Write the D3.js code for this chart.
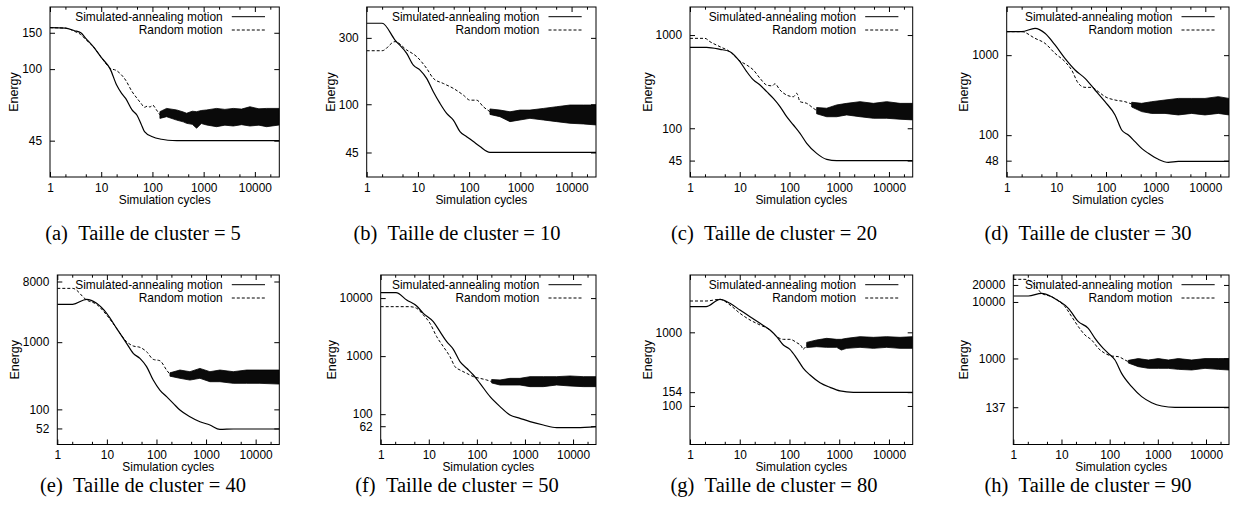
<!DOCTYPE html>
<html><head><meta charset="utf-8">
<script src="https://cdn.jsdelivr.net/npm/d3@7"></script>
<style>body{margin:0;background:#fff} svg{display:block}</style>
</head><body>
<svg id="c" width="1235" height="515"></svg>
<script>
// ---------- DATA ----------
const clusterSizes = [5, 10, 20, 30, 40, 50, 80, 90];
const panelLetters = ["a","b","c","d","e","f","g","h"];
const xTicks = [1, 10, 100, 1000, 10000];
const xMinorTicks = [2, 5, 20, 50, 200, 500, 2000, 5000, 20000];
const xMax = 30000, yMin = 30;
const yMaxes = [200, 500, 2000, 4000, 10000, 25000, 6000, 30000];
const yTicksA = [45, 100, 150];
const yTicksB = [45, 100, 300];
const yTicksC = [45, 100, 1000];
const yTicksD = [48, 100, 1000];
const yTicksE = [52, 100, 1000, 8000];
const yTicksF = [62, 100, 1000, 10000];
const yTicksG = [100, 154, 1000];
const yTicksH = [137, 1000, 10000, 20000];
const legendLabels = ["Simulated-annealing motion", "Random motion"];

// [cycles, energy]
const saA = [[1,158.8],[2,158],[3,153.5],[4,150],[5,141],[7,128.5],[10,114],[15,100],[20,83.7],[25,76.3],[30,72.1],[40,63.4],[50,59.8],[60,54.2],[70,49.8],[100,47],[150,45.7],[200,45.2],[300,45],[30000,45]];
const rmA = [[1,158.8],[2,158],[3,152.5],[4,147],[5,139],[7,128.5],[10,114],[15,101],[20,98.3],[25,93.6],[30,88.4],[40,77.8],[50,72.2],[60,68.2],[70,65.3],[80,66.2],[90,65.5],[100,67],[120,63.4],[140,60]];
// [cycles, low, high] of the noisy band
const bandA = [[140,57.7,62.2],[189,58.8,64.5],[297,56.6,63.4],[400,55.5,62],[465,54.6,61.1],[600,54,62.5],[729,51.7,62.2],[900,54.5,63],[1142,53.6,63.4],[1790,52.6,64.5],[2600,53.5,63.8],[3785,53,64.5],[5500,53.8,64],[8010,53,65.7],[12000,53.5,64.2],[16950,52.6,64.5],[30000,53.6,64.5]];

const saB = [[1,382],[2,382],[3.57,289.5],[6.04,232],[8.15,191],[11,176],[14.8,153.5],[20,123],[27,101.4],[36.4,86],[49.2,77],[66.3,63.6],[89.5,58.5],[121,53.9],[163,49.6],[255,45.1],[30000,45.1]];
const rmB = [[1,242.5],[2,242.5],[3.57,282],[6.04,245.6],[9.46,220],[14.8,181],[20,153.5],[31.4,141],[49.2,130],[77,116.4],[104,107],[140,107],[189,96],[255,88.4]];
const bandB = [[255,84.5,92.5],[400,81.4,90.8],[628,75,88.3],[984,77.1,90.8],[1542,79.2,90.8],[2806,77.1,93.3],[5110,75,96],[9300,73,98.7],[16940,72.2,98.7],[30000,71,98.7]];

const saC = [[1,738],[2.16,738],[4.01,703],[6.37,663],[10.1,518],[13.8,405],[18.8,330],[25.6,291],[34.8,247],[47.4,209],[64.5,171],[87.8,133],[120,108.4],[163,88.3],[222,68.9],[352,53.8],[560,46.4],[889,44.9],[30000,44.9]];
const rmC = [[1,922],[2,922],[2.52,849],[4.01,750],[6.37,663],[10.1,527],[13.8,477],[18.8,422],[25.6,343],[34.8,291],[45,285],[51,300],[64.5,257],[87.8,227],[120,218],[140,237],[163,193],[222,185],[302,164],[352,155]];
const bandC = [[352,143,167],[560,133,164],[889,133,178],[1413,139,185],[2620,133,193],[4857,128,185],[9000,128,193],[16700,125,185],[30000,123,185]];

const saD = [[1,1967],[2,1967],[3.72,2163],[5.9,1875],[9.4,1340],[14.9,912],[23.8,653],[37.8,513],[60,367],[95.5,262],[152,179],[207,116],[282,100.4],[384,83],[522,68.4],[712,59.3],[1132,49.9],[1800,45.7],[2860,47],[30000,47]];
const rmD = [[1,1967],[2,1967],[3.72,1623],[5.9,1406],[9.4,1054],[14.9,829],[20.3,653],[27.7,445],[37.8,396],[51.4,396],[70,350],[95.5,303],[152,275],[241,262],[329,245]];
const bandD = [[329,225,258],[522,197,250],[830,187,262],[1542,187,275],[2860,179,288],[5310,187,288],[9850,179,288],[18280,187,303],[30000,179,288]];

const saE = [[1,3656],[2.04,3656],[3.9,4343],[6.2,3787],[9.9,2686],[15.7,1606],[25,961],[34,682],[46.4,574],[63.2,432],[86,273],[117,194],[160,154.5],[218,123],[297,97.7],[473,77.8],[752,65.5],[1197,58.5],[1904,50.4],[3535,51],[30000,51]];
const rmE = [[1,6325],[2.04,6325],[3.9,4246],[6.2,3656],[9.9,2535],[15.7,1606],[25,1016],[34,877],[46.4,838],[63.2,722],[86,555],[117,530],[160,385],[187,332]];
const bandE = [[187,312,350],[297,290,385],[473,273,364],[752,290,407],[1197,258,364],[1904,258,385],[3535,244,364],[6560,244,385],[12190,244,385],[30000,238,385]];

const saF = [[1,12410],[2.08,12410],[3.47,9265],[5.6,7305],[7.7,5460],[12.4,3925],[17.1,2641],[23.6,1776],[32.4,1309],[44.6,803],[61.4,617],[84.5,473],[116,340],[188,200],[303,135],[488,96.8],[788,84.8],[1273,74.3],[2410,65],[4560,58.5],[11900,58.5],[30000,60.9]];
const rmF = [[1,7117],[4.07,7117],[5.6,6665],[7.7,5118],[10.6,3675],[14.6,2164],[20.1,1455],[27.6,979],[35.1,658],[44.6,577],[61.4,505],[84.5,443],[116,414],[160,388],[203,363]];
const bandF = [[203,345,395],[303,318,388],[488,318,414],[788,318,414],[1273,298,443],[2410,298,443],[4560,318,443],[8630,306,455],[16340,298,443],[30000,298,443]];

const saG = [[1,2229],[2.1,2229],[4,2805],[6.37,2474],[10.1,2009],[16.1,1631],[25.6,1324],[40.6,1075],[55.3,873],[75.3,673],[102,588],[140,443],[190,324],[259,263],[411,207],[653,179],[1038,160],[1923,153],[30000,153]];
const rmG = [[1,2661],[2.1,2661],[4,2805],[6.37,2350],[10.1,1811],[16.1,1470],[25.6,1257],[40.6,1075],[55.3,873],[75.3,803],[102,803],[140,723],[176,638],[185,588],[222,673]];
const bandG = [[222,620,730],[352,638,787],[560,625,828],[889,625,803],[1100,575,803],[1413,606,828],[2620,625,873],[4857,606,855],[9000,625,873],[16700,606,855],[30000,606,873]];

const saH = [[1,12740],[2.05,12740],[3.88,14210],[6.25,12400],[8.6,10550],[13.9,7710],[22.4,4480],[36,3410],[49.6,2270],[68.2,1617],[93.8,1233],[129,939],[177,545],[286,317],[462,211],[745,165],[1202,144],[2270,136],[30000,136]];
const rmH = [[1,25140],[1.75,25140],[2.82,19950],[3.88,14210],[6.25,12400],[8.6,10550],[11.8,8260],[16.3,5500],[22.4,3656],[30.7,2603],[42.3,2122],[58.2,1511],[80,1233],[110,1105],[151,1076],[208,939],[244,877]];
const bandH = [[244,830,925],[394,716,995],[635,668,939],[1023,668,995],[1652,668,939],[2665,641,995],[5040,625,939],[9530,668,995],[18030,641,995],[30000,625,995]];

// ---------- LAYOUT ----------
const frames = [
  {L:50,    R:279.3, T:7,   B:177},
  {L:366.7, R:596,   T:7,   B:177},
  {L:690,   R:912.7, T:7,   B:177},
  {L:1006.7,R:1229,  T:7,   B:177},
  {L:57.3,  R:279.3, T:275, B:444.5},
  {L:380.7, R:596,   T:275, B:444.5},
  {L:690,   R:912.7, T:275, B:444.5},
  {L:1013.3,R:1229,  T:275, B:444.5}
];
const captionX = [143, 457, 774, 1088];
const captionY = [239.5, 491.5];
const SANS = "'Liberation Sans', Arial, Helvetica, sans-serif";
const SERIF = "'Liberation Serif', 'Times New Roman', Times, serif";
const FS = 11.9;

const panels = [
  {sa:saA, rm:rmA, band:bandA, yt:yTicksA},
  {sa:saB, rm:rmB, band:bandB, yt:yTicksB},
  {sa:saC, rm:rmC, band:bandC, yt:yTicksC},
  {sa:saD, rm:rmD, band:bandD, yt:yTicksD},
  {sa:saE, rm:rmE, band:bandE, yt:yTicksE},
  {sa:saF, rm:rmF, band:bandF, yt:yTicksF},
  {sa:saG, rm:rmG, band:bandG, yt:yTicksG},
  {sa:saH, rm:rmH, band:bandH, yt:yTicksH}
];

const svg = d3.select('#c');
const defs = svg.append('defs');

function styleAxis(g){
  g.attr('font-family', SANS).attr('font-size', FS);
  g.select('.domain').remove();
  g.selectAll('line').attr('stroke','#000').attr('stroke-width',1);
  g.selectAll('text').attr('fill','#000');
}

panels.forEach((p, i) => {
  const f = frames[i];
  const x = d3.scaleLog().domain([1, xMax]).range([f.L, f.R]);
  const y = d3.scaleLog().domain([yMin, yMaxes[i]]).range([f.B, f.T]);
  const g = svg.append('g');

  defs.append('clipPath').attr('id','clip'+i).append('rect')
    .attr('x', f.L).attr('y', f.T).attr('width', f.R - f.L).attr('height', f.B - f.T);
  const plot = g.append('g').attr('clip-path', `url(#clip${i})`);

  // noisy band of random motion
  plot.append('path').datum(p.band)
    .attr('d', d3.area().x(d => x(d[0])).y0(d => y(d[1])).y1(d => y(d[2])))
    .attr('fill', '#0a0a0a').attr('stroke', '#000').attr('stroke-width', 0.8);

  const line = d3.line().x(d => x(d[0])).y(d => y(d[1])).curve(d3.curveMonotoneX);
  plot.append('path').datum(p.rm).attr('d', line)
    .attr('fill','none').attr('stroke','#000').attr('stroke-width',1).attr('stroke-dasharray','3,2');
  plot.append('path').datum(p.sa).attr('d', line)
    .attr('fill','none').attr('stroke','#000').attr('stroke-width',1.2);

  // axes
  const fmt = d3.format('d');
  const gx = g.append('g').attr('transform', `translate(0,${f.B})`)
    .call(d3.axisBottom(x).tickValues(xTicks).tickFormat(fmt).tickSizeInner(-5).tickSizeOuter(0).tickPadding(6.5));
  styleAxis(gx);
  const gxm = g.append('g').attr('transform', `translate(0,${f.B})`)
    .call(d3.axisBottom(x).tickValues(xMinorTicks).tickFormat('').tickSizeInner(-2.7).tickSizeOuter(0));
  styleAxis(gxm);
  const gxt = g.append('g').attr('transform', `translate(0,${f.T})`)
    .call(d3.axisTop(x).tickValues(xTicks).tickFormat('').tickSizeInner(-5).tickSizeOuter(0));
  styleAxis(gxt);
  const gxtm = g.append('g').attr('transform', `translate(0,${f.T})`)
    .call(d3.axisTop(x).tickValues(xMinorTicks).tickFormat('').tickSizeInner(-2.7).tickSizeOuter(0));
  styleAxis(gxtm);

  const gy = g.append('g').attr('transform', `translate(${f.L},0)`)
    .call(d3.axisLeft(y).tickValues(p.yt).tickFormat(fmt).tickSizeInner(-5).tickSizeOuter(0).tickPadding(8));
  styleAxis(gy);
  const gyr = g.append('g').attr('transform', `translate(${f.R},0)`)
    .call(d3.axisRight(y).tickValues(p.yt).tickFormat('').tickSizeInner(-5).tickSizeOuter(0));
  styleAxis(gyr);

  // frame
  g.append('rect').attr('x', f.L).attr('y', f.T).attr('width', f.R - f.L).attr('height', f.B - f.T)
    .attr('fill','none').attr('stroke','#000').attr('stroke-width',1);

  // axis titles
  g.append('text').attr('x', (f.L + f.R) / 2).attr('y', f.B + 26.5)
    .attr('text-anchor','middle').attr('font-family', SANS).attr('font-size', FS)
    .text('Simulation cycles');
  let minX = 0;
  gy.selectAll('text').each(function(){ const b = this.getBBox(); minX = Math.min(minX, b.x); });
  const ex = f.L + minX - 8;
  g.append('text').attr('transform', `translate(${ex},${(f.T + f.B) / 2}) rotate(-90)`)
    .attr('text-anchor','middle').attr('dominant-baseline','central')
    .attr('font-family', SANS).attr('font-size', 12.5).text('Energy');

  // legend
  legendLabels.forEach((lab, k) => {
    const ly = f.T + 9.7 + k * 13.3;
    g.append('text').attr('x', f.R - 56.6).attr('y', ly + 4)
      .attr('text-anchor','end').attr('font-family', SANS).attr('font-size', FS).text(lab);
    g.append('line').attr('x1', f.R - 47.5).attr('x2', f.R - 14.3).attr('y1', ly).attr('y2', ly)
      .attr('stroke','#000').attr('stroke-width',1)
      .attr('stroke-dasharray', k === 1 ? '3,2' : null);
  });

  // caption
  svg.append('text').attr('x', captionX[i % 4]).attr('y', captionY[Math.floor(i / 4)])
    .attr('text-anchor','middle').attr('font-family', SERIF).attr('font-size', 20.5)
    .text(`(${panelLetters[i]})\u2002Taille de cluster = ${clusterSizes[i]}`);
});
</script>
</body></html>
